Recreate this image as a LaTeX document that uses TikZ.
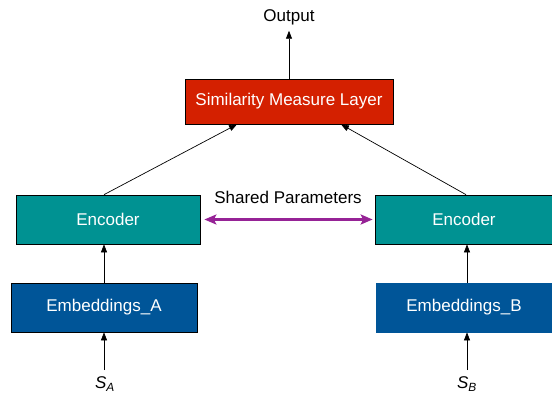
\documentclass[tikz,border=0pt]{standalone}
\usepackage{fontspec}
\setmainfont{Liberation Sans}
\usetikzlibrary{arrows.meta}

\definecolor{simred}{RGB}{212,32,0}
\definecolor{encteal}{RGB}{0,146,146}
\definecolor{embblue}{RGB}{0,85,152}
\definecolor{sharedpurple}{RGB}{150,35,150}

\begin{document}
\begin{tikzpicture}[x=1pt,y=-1pt,
        every node/.style={font=\fontsize{17}{20}\selectfont},
        layerbox/.style={draw=black,line width=0.7pt,text=white,inner sep=0pt},
        arr/.style={-{Triangle[length=8pt,width=6pt]},line width=0.7pt}]
        \useasboundingbox (0,0) rectangle (552,393);
        % layers
        \node [layerbox,fill=simred,minimum width=208pt,minimum height=45pt] (sim) at (289,101.5) {Similarity Measure Layer};
        \node [layerbox,fill=encteal,minimum width=184pt,minimum height=49pt] (encA) at (108,219.5) {Encoder};
        \node [layerbox,fill=encteal,minimum width=178pt,minimum height=49pt] (encB) at (464,219.5) {Encoder};
        \node [layerbox,fill=embblue,minimum width=186pt,minimum height=49pt] (embA) at (104,307.5) {Embeddings\_A};
        \node [layerbox,draw=embblue,fill=embblue,minimum width=176pt,minimum height=49pt] (embB) at (464,307.5) {Embeddings\_B};
        % texts
        \node (out) at (289,17.5) {Output};
        \node (sA) at (105,384) {\itshape S\textsubscript{A}};
        \node (sB) at (467,384) {\itshape S\textsubscript{B}};
        \node (shared) at (288,197) {Shared Parameters};
        % connectors
        \draw [arr] (sim.north) -- ([yshift=-2pt]out.south);
        \draw [arr,shorten <=3pt] (sA.north -| embA.north) -- (embA.south);
        \draw [arr,shorten <=3pt] (sB.north) -- (sB.north |- embB.south);
        \draw [arr] (embA.north) -- (embA.north |- encA.south);
        \draw [arr] (sB.north |- embB.north) -- (sB.north |- encB.south);
        \draw [arr] ([xshift=-4pt]encA.north) -- ([xshift=-52pt]sim.south);
        \draw [arr] ([xshift=2pt]encB.north) -- ([xshift=52pt]sim.south);
        \draw [sharedpurple,line width=2.4pt,{Stealth[length=12pt,width=10pt,inset=2.5pt]}-{Stealth[length=12pt,width=10pt,inset=2.5pt]},shorten <=4pt,shorten >=2pt] (encA.east) -- (encB.west);
\end{tikzpicture}
\end{document}
